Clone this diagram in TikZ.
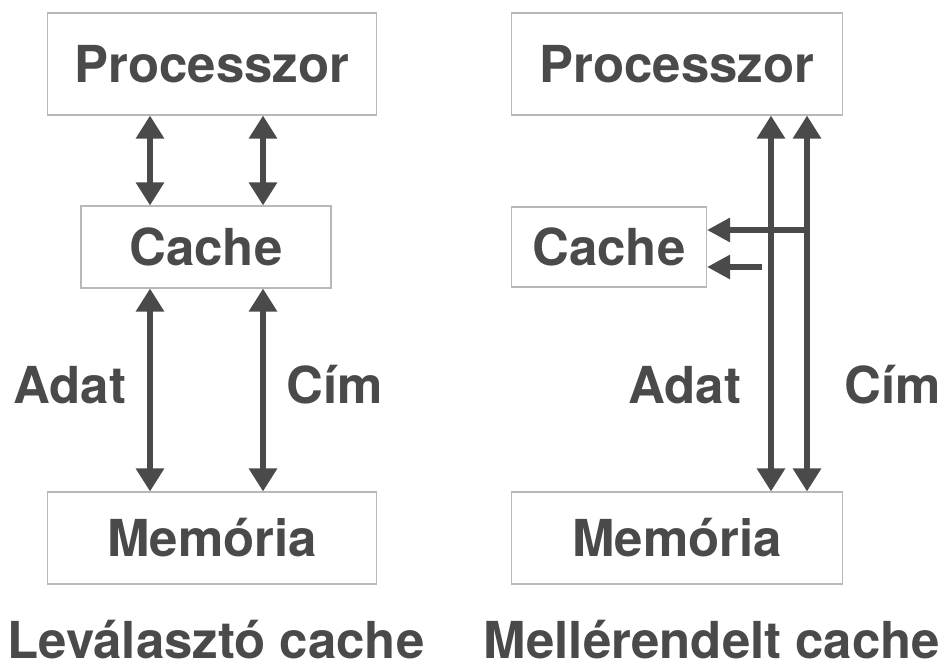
\documentclass[tikz,border=0pt]{standalone}
\usepackage{fontspec}
\setmainfont{TeX Gyre Heros}
\usetikzlibrary{arrows.meta}
\definecolor{ink}{HTML}{4A4A4A}
\definecolor{frame}{HTML}{B8B8B8}
\tikzset{
	box/.style={draw=frame,line width=0.6pt,text=ink,inner sep=0pt,font=\fontsize{29}{34}\selectfont\bfseries},
	lbl/.style={text=ink,inner sep=0pt,font=\fontsize{29}{34}\selectfont\bfseries},
	bus/.style={draw=ink,line width=3.4pt,{Triangle[width=0.54cm,length=0.46cm]}-{Triangle[width=0.54cm,length=0.46cm]}},
	tap/.style={draw=ink,line width=3.4pt,-{Triangle[width=0.46cm,length=0.46cm]}}
}
\begin{document}
\begin{tikzpicture}[x=0.02cm,y=-0.02cm]
	\useasboundingbox[fill=white] (0,0) rectangle (950,669);
	% Levalaszto cache
	\path
	(212,64) node[box,minimum width=6.6cm,minimum height=2.04cm] (procL) {Processzor}
	(206,247) node[box,minimum width=5cm,minimum height=1.64cm] (cacheL) {Cache}
	(212,538) node[box,minimum width=6.6cm,minimum height=1.84cm] (memL) {Memória}
	(70,385) node[lbl] (adatL) {Adat}
	(335,385) node[lbl] (cimL) {Cím}
	(216,640) node[lbl] (captL) {Leválasztó cache}
	;
	\coordinate (dL) at (150,0);
	\coordinate (aL) at (263,0);
	\draw[bus] (procL.south -| dL) -- (cacheL.north -| dL);
	\draw[bus] (procL.south -| aL) -- (cacheL.north -| aL);
	\draw[bus] (cacheL.south -| dL) -- (memL.north -| dL);
	\draw[bus] (cacheL.south -| aL) -- (memL.north -| aL);
	% Mellerendelt cache
	\path
	(677,64) node[box,minimum width=6.62cm,minimum height=2.04cm] (procR) {Processzor}
	(609,247) node[box,minimum width=3.9cm,minimum height=1.6cm] (cacheR) {Cache}
	(677,538) node[box,minimum width=6.62cm,minimum height=1.84cm] (memR) {Memória}
	(685,385) node[lbl] (adatR) {Adat}
	(893,385) node[lbl] (cimR) {Cím}
	(712,640) node[lbl] (captR) {Mellérendelt cache}
	;
	\coordinate (dR) at (771,0);
	\coordinate (aR) at (807,0);
	\coordinate (t1) at (807,230);
	\coordinate (t2) at (762,267);
	\draw[bus] (procR.south -| dR) -- (memR.north -| dR);
	\draw[bus] (procR.south -| aR) -- (memR.north -| aR);
	\draw[tap] (t1) -- (t1 -| cacheR.east);
	\draw[tap] (t2) -- (t2 -| cacheR.east);
\end{tikzpicture}
\end{document}
